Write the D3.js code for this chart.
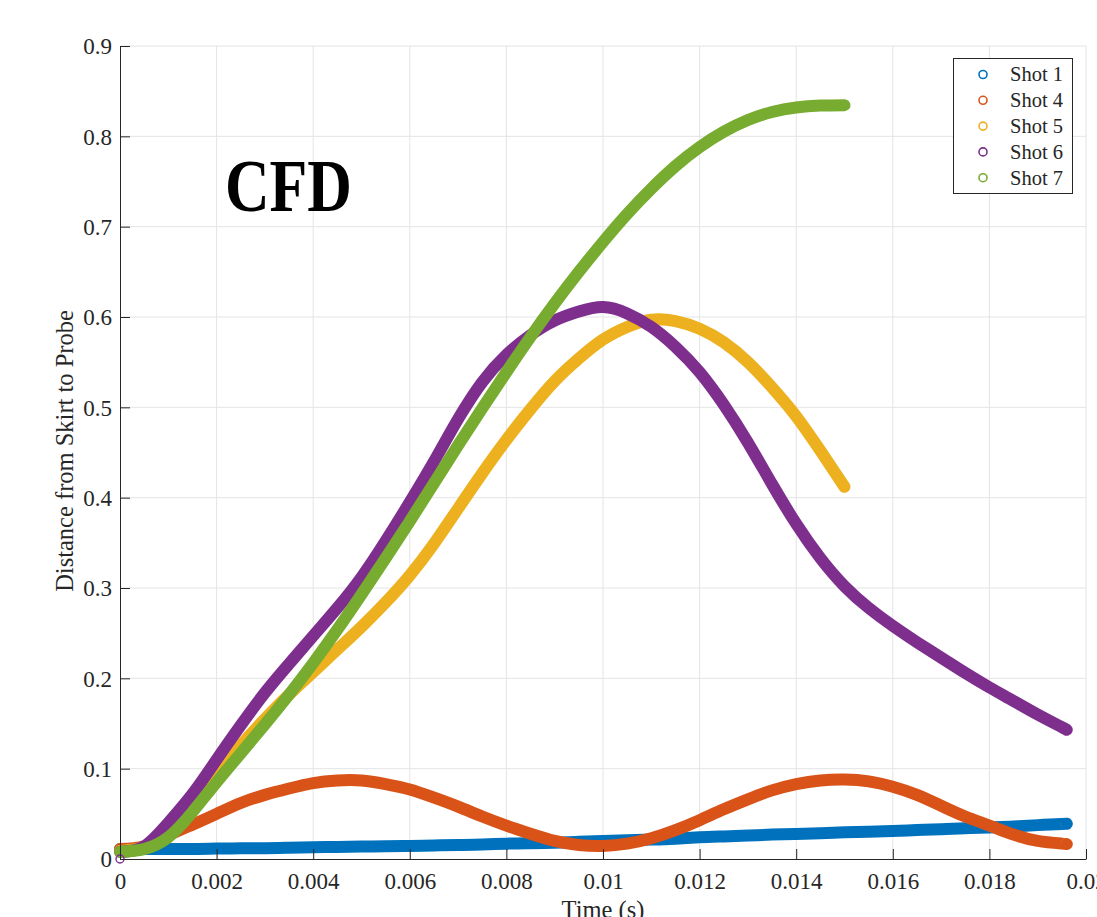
<!DOCTYPE html>
<html><head><meta charset="utf-8">
<script src="https://cdn.jsdelivr.net/npm/d3@7"></script>
<style>
html,body{margin:0;padding:0;background:#fff;overflow:hidden}
svg{display:block}
text{font-family:"Liberation Serif","Times New Roman",serif;fill:#262626}
</style></head>
<body>
<svg id="chart" width="1097" height="917"></svg>
<script>
// ---- data ----
const timeFull = [0,0.0005,0.001,0.0015,0.002,0.0025,0.003,0.0035,0.004,0.0045,0.005,0.0055,0.006,0.0065,0.007,0.0075,0.008,0.0085,0.009,0.0095,0.010,0.0105,0.011,0.0115,0.012,0.0125,0.013,0.0135,0.014,0.0145,0.015,0.0155,0.016,0.0165,0.017,0.0175,0.018,0.0185,0.019,0.0195,0.0196];
const timeShort = timeFull.slice(0, 31); // up to 0.015 s

const shot1 = [0.011,0.011,0.011,0.011,0.0115,0.012,0.012,0.0125,0.013,0.0133,0.0137,0.014,0.0145,0.015,0.0155,0.016,0.017,0.0175,0.018,0.019,0.020,0.0208,0.0215,0.0225,0.024,0.025,0.026,0.027,0.0278,0.0286,0.0295,0.0303,0.031,0.032,0.033,0.034,0.035,0.036,0.0375,0.0388,0.039];
const shot4 = [0.011,0.014,0.026,0.038,0.050,0.062,0.071,0.078,0.084,0.087,0.087,0.083,0.077,0.068,0.058,0.047,0.037,0.028,0.020,0.0155,0.0145,0.017,0.023,0.032,0.043,0.055,0.066,0.076,0.083,0.087,0.088,0.086,0.080,0.071,0.059,0.047,0.037,0.027,0.020,0.017,0.0165];
const shot5 = [0.009,0.013,0.030,0.062,0.095,0.126,0.155,0.182,0.207,0.232,0.257,0.284,0.314,0.349,0.388,0.427,0.464,0.498,0.529,0.554,0.575,0.589,0.597,0.5955,0.587,0.572,0.550,0.522,0.490,0.452,0.412];
const shot6 = [0.008,0.014,0.040,0.072,0.110,0.148,0.184,0.216,0.247,0.278,0.312,0.352,0.395,0.440,0.487,0.528,0.558,0.580,0.596,0.606,0.611,0.604,0.589,0.567,0.539,0.503,0.461,0.415,0.371,0.333,0.302,0.278,0.258,0.240,0.223,0.206,0.190,0.175,0.160,0.146,0.143];
const shot6Start = [[0, 0]];
const shot7 = [0.008,0.011,0.024,0.052,0.085,0.117,0.149,0.182,0.217,0.254,0.293,0.333,0.374,0.416,0.458,0.499,0.539,0.578,0.615,0.650,0.683,0.714,0.742,0.767,0.788,0.805,0.818,0.827,0.832,0.834,0.8345];

const seriesNames = ["Shot 1","Shot 4","Shot 5","Shot 6","Shot 7"];
const seriesColors = ["#0072BD","#D95319","#EDB120","#7E2F8E","#77AC30"];
const xTicks = [0,0.002,0.004,0.006,0.008,0.01,0.012,0.014,0.016,0.018,0.02];
const xTickLabels = ["0","0.002","0.004","0.006","0.008","0.01","0.012","0.014","0.016","0.018","0.02"];
const yTicks = [0,0.1,0.2,0.3,0.4,0.5,0.6,0.7,0.8,0.9];
const yTickLabels = ["0","0.1","0.2","0.3","0.4","0.5","0.6","0.7","0.8","0.9"];

// ---- layout ----
const svg = d3.select("#chart");
const L = 120, R = 1086, T = 46, B = 859;
const x = d3.scaleLinear().domain([0, 0.02]).range([L, R]);
const y = d3.scaleLinear().domain([0, 0.9]).range([B, T]);

const series = [
  {t: timeFull, v: shot1},
  {t: timeFull, v: shot4},
  {t: timeShort, v: shot5},
  {t: timeFull, v: shot6},
  {t: timeShort, v: shot7}
];

// grid
const grid = svg.append("g");
grid.selectAll("line.gx").data(xTicks.slice(1)).join("line")
  .attr("x1", d => x(d)).attr("x2", d => x(d)).attr("y1", T).attr("y2", B)
  .attr("stroke", "#e4e4e4").attr("stroke-width", 1);
grid.selectAll("line.gy").data(yTicks.slice(1)).join("line")
  .attr("x1", L).attr("x2", R).attr("y1", d => y(d)).attr("y2", d => y(d))
  .attr("stroke", "#e4e4e4").attr("stroke-width", 1);

// series bands
const line = d3.line().x(d => x(d[0])).y(d => y(d[1])).curve(d3.curveNatural);
series.forEach((s, i) => {
  const pts = s.t.map((t, k) => [t, s.v[k]]);
  svg.append("path").datum(pts)
    .attr("d", line)
    .attr("fill", "none")
    .attr("stroke", seriesColors[i])
    .attr("stroke-width", 12)
    .attr("stroke-linecap", "round")
    .attr("stroke-linejoin", "round");
});
// isolated first marker of Shot 6
svg.selectAll("circle.s6").data(shot6Start).join("circle")
  .attr("cx", d => x(d[0])).attr("cy", d => y(d[1])).attr("r", 4)
  .attr("fill", "none").attr("stroke", seriesColors[3]).attr("stroke-width", 1.4);

// axes
const xAxis = d3.axisBottom(x).tickValues(xTicks).tickFormat((d, i) => xTickLabels[i]).tickSizeInner(-10).tickSizeOuter(0).tickPadding(14);
const yAxis = d3.axisLeft(y).tickValues(yTicks).tickFormat((d, i) => yTickLabels[i]).tickSizeInner(-10).tickSizeOuter(0).tickPadding(8);
const gx = svg.append("g").attr("transform", `translate(0,${B})`).call(xAxis);
const gy = svg.append("g").attr("transform", `translate(${L},0)`).call(yAxis);
[gx, gy].forEach(g => {
  g.select(".domain").attr("stroke", "#262626").attr("stroke-width", 1);
  g.selectAll(".tick line").attr("stroke", "#262626").attr("stroke-width", 1);
  g.selectAll(".tick text").attr("fill", "#262626")
    .style("font-family", '"Liberation Serif","Times New Roman",serif').style("font-size", "23px");
});
gx.selectAll(".tick text").attr("dy", "0.71em");
gy.selectAll(".tick text").attr("dy", "0.34em");

// axis labels
svg.append("text").attr("x", (L + R) / 2).attr("y", 918).attr("text-anchor", "middle")
  .style("font-size", "24.5px").text("Time (s)");
svg.append("text").attr("transform", "translate(73,451) rotate(-90)").attr("text-anchor", "middle")
  .style("font-size", "24.5px").text("Distance from Skirt to Probe");

// CFD annotation
svg.append("text").attr("x", 225).attr("y", 211)
  .attr("textLength", 127).attr("lengthAdjust", "spacingAndGlyphs")
  .style("font-size", "74px").style("font-weight", "bold").style("fill", "#000").text("CFD");

// legend
const lg = svg.append("g");
lg.append("rect").attr("x", 953.5).attr("y", 58.5).attr("width", 119).attr("height", 135)
  .attr("fill", "#fff").attr("stroke", "#262626").attr("stroke-width", 1);
const rows = lg.selectAll("g.row").data(seriesNames).join("g")
  .attr("transform", (d, i) => `translate(0,${74.5 + i * 25.8})`);
rows.append("circle").attr("cx", 983).attr("cy", 0).attr("r", 4)
  .attr("fill", "none").attr("stroke", (d, i) => seriesColors[i]).attr("stroke-width", 1.6);
rows.append("text").attr("x", 1010).attr("y", 0).attr("dy", "0.34em")
  .style("font-size", "20.5px").text(d => d);
</script>
</body></html>
